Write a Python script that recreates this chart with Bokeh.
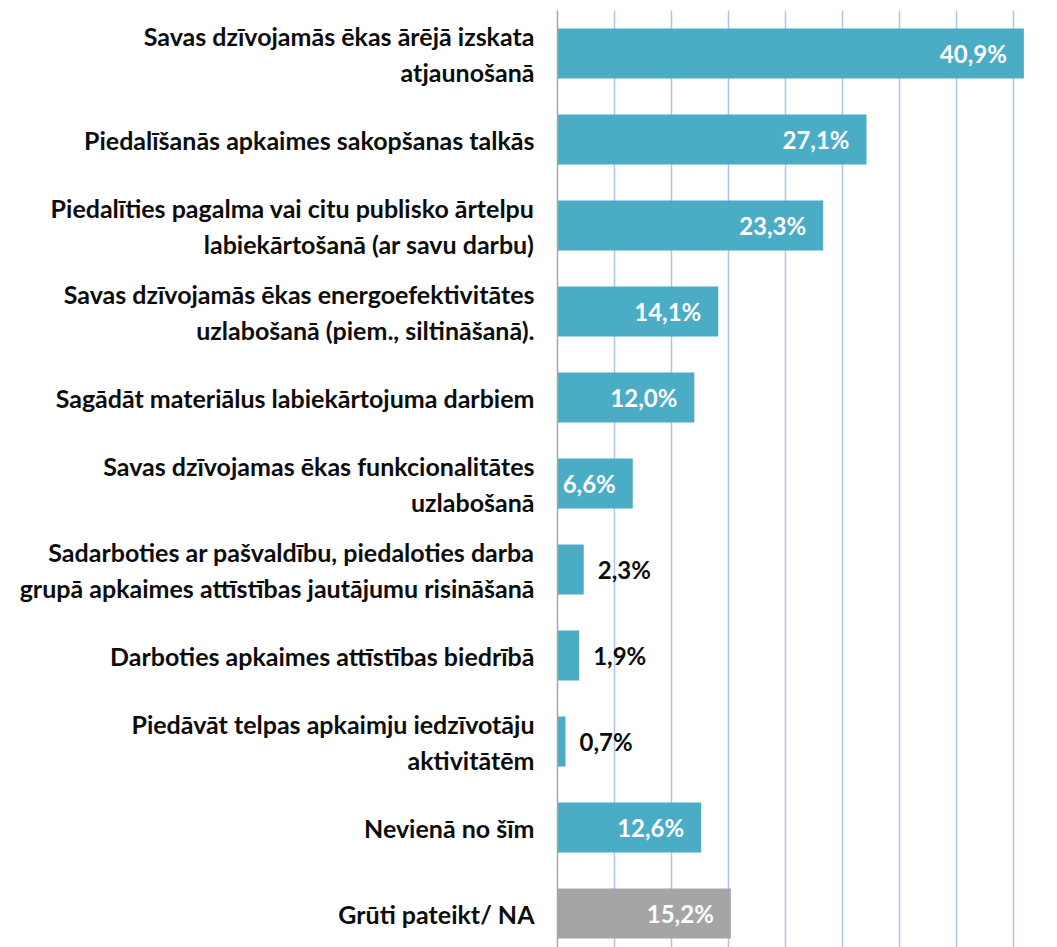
from bokeh.plotting import figure
from bokeh.models import ColumnDataSource, FixedTicker, Range1d
from bokeh.core.properties import value
from bokeh.embed import file_html
from bokeh.resources import INLINE

categories = [
    "Savas dzīvojamās ēkas ārējā izskata\natjaunošanā",
    "Piedalīšanās apkaimes sakopšanas talkās",
    "Piedalīties pagalma vai citu publisko ārtelpu\nlabiekārtošanā (ar savu darbu)",
    "Savas dzīvojamās ēkas energoefektivitātes\nuzlabošanā (piem., siltināšanā).",
    "Sagādāt materiālus labiekārtojuma darbiem",
    "Savas dzīvojamas ēkas funkcionalitātes\nuzlabošanā",
    "Sadarboties ar pašvaldību, piedaloties darba\ngrupā apkaimes attīstības jautājumu risināšanā",
    "Darboties apkaimes attīstības biedrībā",
    "Piedāvāt telpas apkaimju iedzīvotāju\naktivitātēm",
    "Nevienā no šīm",
    "Grūti pateikt/ NA",
]
values = [40.9, 27.1, 23.3, 14.1, 12.0, 6.6, 2.3, 1.9, 0.7, 12.6, 15.2]
bar_colors = ["#4BACC6"] * 10 + ["#A5A5A5"]
inside_label = [True, True, True, True, True, True, False, False, False, True, True]

n = len(categories)
pos = [n - 1 - i for i in range(n)]
labels = [f"{v:.1f}%".replace(".", ",") for v in values]

src = ColumnDataSource(dict(y=pos, v=values, c=bar_colors, t=labels))
src_in = ColumnDataSource(dict(
    y=[p_ for p_, f in zip(pos, inside_label) if f],
    v=[v for v, f in zip(values, inside_label) if f],
    t=[t for t, f in zip(labels, inside_label) if f]))
src_out = ColumnDataSource(dict(
    y=[p_ for p_, f in zip(pos, inside_label) if not f],
    v=[v for v, f in zip(values, inside_label) if not f],
    t=[t for t, f in zip(labels, inside_label) if not f]))

FONT = "Lato"

p = figure(width=1057, height=947, output_backend="svg", toolbar_location=None,
           x_range=Range1d(0, 43.85), y_range=Range1d(-0.395, 10.5),
           min_border_left=557, min_border_right=0, min_border_top=10, min_border_bottom=0)
p.outline_line_color = None
p.background_fill_color = "white"
p.border_fill_color = "white"

p.hbar(y="y", right="v", left=0, height=0.58, fill_color="c", line_color=None, source=src)

p.text(x="v", y="y", text="t", source=src_in, text_align="right", text_baseline="middle",
       x_offset=-17, text_color="white", text_font=value(FONT), text_font_style="bold",
       text_font_size="24px")
p.text(x="v", y="y", text="t", source=src_out, text_align="left", text_baseline="middle",
       x_offset=14, text_color="#0D0D0D", text_font=value(FONT), text_font_style="bold",
       text_font_size="24px")

p.xaxis.visible = False
p.xgrid.ticker = FixedTicker(ticks=[5, 10, 15, 20, 25, 30, 35, 40])
p.xgrid.grid_line_color = "#AFC4EC"
p.xgrid.grid_line_width = 1.5
p.ygrid.grid_line_color = None

p.yaxis.ticker = FixedTicker(ticks=pos)
p.yaxis.major_label_overrides = {pp: c for pp, c in zip(pos, categories)}
p.yaxis.axis_line_color = "#A6A6A6"
p.yaxis.axis_line_width = 1.5
p.yaxis.major_tick_line_color = None
p.yaxis.minor_tick_line_color = None
p.yaxis.major_tick_out = 0
p.yaxis.major_label_standoff = 23
p.yaxis.major_label_text_font = FONT
p.yaxis.major_label_text_font_style = "bold"
p.yaxis.major_label_text_font_size = "25px"
p.yaxis.major_label_text_color = "#0D0D0D"

open("out.html", "w").write(file_html(p, INLINE))
